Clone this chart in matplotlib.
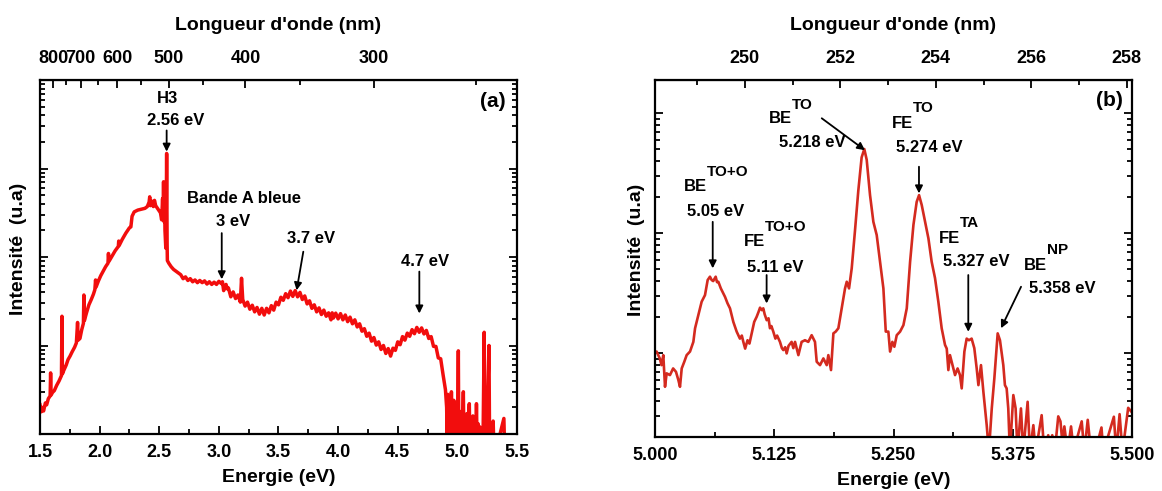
import numpy as np
import matplotlib
matplotlib.use('Agg')
import matplotlib.pyplot as plt
from matplotlib.ticker import MultipleLocator, LogLocator, NullFormatter, FixedLocator, FormatStrFormatter

plt.rcParams['font.family'] = ['Liberation Sans', 'DejaVu Sans']
plt.rcParams['font.weight'] = 'bold'
plt.rcParams['axes.labelweight'] = 'bold'

# ---------------- data, panel (a) ----------------
energy_a = [
    1.500, 1.510, 1.520, 1.530, 1.545, 1.556, 1.570, 1.585, 1.589, 1.593, 1.605, 1.620, 1.640, 1.660,
    1.680, 1.684, 1.688, 1.700, 1.720, 1.735, 1.752, 1.770, 1.790, 1.805, 1.815, 1.820, 1.835, 1.850,
    1.864, 1.868, 1.872, 1.890, 1.910, 1.930, 1.948, 1.960, 1.966, 1.970, 1.990, 2.010, 2.030, 2.050,
    2.070, 2.074, 2.078, 2.100, 2.130, 2.157, 2.160, 2.164, 2.190, 2.220, 2.250, 2.262, 2.272, 2.290,
    2.320, 2.350, 2.380, 2.400, 2.415, 2.420, 2.425, 2.440, 2.450, 2.460, 2.470, 2.485, 2.500, 2.510,
    2.520, 2.528, 2.532, 2.536, 2.540, 2.544, 2.548, 2.555, 2.559, 2.562, 2.566, 2.568, 2.580, 2.600,
    2.620, 2.640, 2.660,
    2.68, 2.70, 2.72, 2.74, 2.76, 2.78, 2.80, 2.82, 2.84, 2.86, 2.88, 2.90, 2.92, 2.94, 2.96, 2.98,
    3.00, 3.02, 3.03, 3.04, 3.06, 3.07, 3.08, 3.10, 3.12, 3.14, 3.16, 3.18, 3.19, 3.20, 3.22, 3.24,
    3.26, 3.28, 3.30, 3.32, 3.34, 3.36, 3.38, 3.40, 3.42, 3.44, 3.46, 3.48, 3.50, 3.52, 3.54, 3.56,
    3.58, 3.60, 3.62, 3.64, 3.66, 3.68, 3.70, 3.72, 3.74, 3.76, 3.78, 3.80, 3.82, 3.84, 3.86, 3.88,
    3.90, 3.92, 3.94, 3.95, 3.96, 3.98, 4.00, 4.02, 4.04, 4.06, 4.08, 4.10, 4.12, 4.14, 4.16, 4.18,
    4.20, 4.22, 4.24, 4.26, 4.28, 4.30, 4.32, 4.34, 4.36, 4.38, 4.40, 4.42, 4.44, 4.46, 4.48, 4.50,
    4.52, 4.54, 4.56, 4.58, 4.60, 4.62, 4.64, 4.66, 4.68, 4.70, 4.72, 4.74, 4.76, 4.78, 4.80, 4.82,
    4.84, 4.86, 4.88, 4.90, 4.91,
    4.915, 4.920, 4.925, 4.930, 4.935, 4.940, 4.945, 4.950, 4.955, 4.960, 4.965, 4.970, 4.975, 4.980,
    4.985, 4.990, 4.995, 5.003, 5.008, 5.012, 5.020, 5.025, 5.035, 5.040, 5.050, 5.055, 5.065, 5.070,
    5.080, 5.085, 5.100, 5.105, 5.115, 5.120, 5.130, 5.135, 5.150, 5.155, 5.160, 5.165, 5.175, 5.180,
    5.190, 5.195, 5.210, 5.215, 5.225, 5.230, 5.240, 5.245, 5.265, 5.270, 5.280, 5.285, 5.300, 5.305,
    5.320, 5.340, 5.390, 5.395, 5.420,
]
intensity_a = [
    21.4, 17.8, 20.0, 18.2, 22.4, 21.4, 25.1, 26.9, 49.0, 27.5, 29.5, 30.9, 35.5, 39.8,
    45.7, 214, 47.9, 52.5, 60.3, 69.2, 75.9, 85.1, 95.5, 107, 182, 115, 120, 151,
    178, 372, 191, 234, 288, 331, 380, 427, 550, 457, 537, 617, 692, 776,
    851, 1096, 891, 1000, 1175, 1318, 1514, 1349, 1585, 1862, 2138, 2188, 2884, 3236,
    3388, 3467, 3548, 3715, 4169, 4786, 3802, 4266, 3715, 4365, 3802, 3548, 3311, 3162,
    2630, 4571, 2754, 7079, 2512, 5754, 1995, 1259, 3548, 14791, 1413, 912, 851, 776,
    724, 692, 661,
    631, 569, 596, 543, 569, 525, 550, 513, 543, 513, 537, 495, 525, 490, 519, 490,
    531, 501, 525, 417, 490, 437, 447, 355, 403, 339, 372, 309, 575, 331, 279, 309,
    257, 285, 240, 269, 226, 263, 221, 263, 234, 282, 251, 309, 288, 351, 324, 385,
    347, 412, 359, 417, 355, 398, 331, 363, 295, 320, 263, 288, 240, 266, 224, 251,
    214, 234, 195, 234, 204, 232, 200, 229, 195, 221, 186, 209, 176, 195, 162, 176,
    145, 155, 127, 138, 112, 123, 101, 110, 90.2, 100, 81.3, 92.3, 75.9, 93.3, 88.1, 110,
    102, 126, 115, 138, 127, 151, 136, 160, 141, 158, 135, 148, 120, 126, 97.7, 97.7,
    72.4, 70.8, 46.8, 31.6, 20.0,
    8, 28, 8, 25, 8, 22, 9, 30, 8, 18, 8, 24, 12, 16,
    8, 20, 8, 14, 87, 8, 18, 8, 15, 8, 30, 8, 14, 8,
    17, 8, 22, 8, 13, 8, 16, 8, 15, 8, 22, 8, 13, 8,
    12, 8, 11, 8, 141, 8, 12, 8, 100, 8, 11, 8, 14, 8,
    9.5, 8, 15, 8, 8,
]

# ---------------- data, panel (b) ----------------
energy_b = [
    5.0000, 5.0017, 5.0050, 5.0068, 5.0087, 5.0105, 5.0122, 5.0157, 5.0190, 5.0220, 5.0245, 5.0262,
    5.0280, 5.0307, 5.0332, 5.0367, 5.0402, 5.0420, 5.0454, 5.0489, 5.0524, 5.0552, 5.0576, 5.0594,
    5.0610, 5.0636, 5.0650, 5.0664, 5.0690, 5.0734, 5.0760, 5.0786, 5.0821, 5.0856, 5.0890, 5.0910,
    5.0926, 5.0945, 5.0970, 5.0990, 5.1013, 5.1040, 5.1066, 5.1085, 5.1101, 5.1120, 5.1135, 5.1150,
    5.1171, 5.1190, 5.1205, 5.1220, 5.1240, 5.1262, 5.1280, 5.1310, 5.1330, 5.1345, 5.1365, 5.1380,
    5.1400, 5.1432, 5.1450, 5.1468, 5.1503, 5.1537, 5.1572, 5.1607, 5.1642, 5.1677, 5.1695, 5.1730,
    5.1765, 5.1800, 5.1817, 5.1845, 5.1870, 5.1894, 5.1922, 5.1957, 5.1992, 5.2010, 5.2034, 5.2062,
    5.2096, 5.2131, 5.2166, 5.2194, 5.2219, 5.2254, 5.2289, 5.2324, 5.2359, 5.2394, 5.2419, 5.2446,
    5.2464, 5.2488, 5.2509, 5.2534, 5.2569, 5.2604, 5.2639, 5.2674, 5.2709, 5.2743, 5.2768, 5.2796,
    5.2831, 5.2866, 5.2900, 5.2935, 5.2970, 5.3005, 5.3040, 5.3058, 5.3075, 5.3092, 5.3110, 5.3145,
    5.3172, 5.3197, 5.3215, 5.3243, 5.3267, 5.3291, 5.3319, 5.3347, 5.3372, 5.3390, 5.3417, 5.3442,
    5.3477, 5.3500, 5.3530, 5.3557, 5.3592, 5.3616, 5.3651, 5.3668, 5.3686, 5.3703, 5.3720, 5.3756,
    5.3780, 5.3800, 5.3836, 5.3860, 5.3906, 5.3930, 5.3966, 5.3990, 5.4053, 5.4080, 5.4122, 5.4140,
    5.4164, 5.4190, 5.4227, 5.4250, 5.4270, 5.4291, 5.4325, 5.4361, 5.4390, 5.4420, 5.4473, 5.4500,
    5.4536, 5.4570, 5.4647, 5.4680, 5.4700, 5.4810, 5.4835, 5.4870, 5.4900, 5.4960, 5.5000,
]
intensity_b = [
    10.0, 10.3, 9.03, 7.94, 9.62, 5.24, 6.78, 6.56, 7.45, 6.98, 5.96, 5.24,
    7.45, 8.47, 9.62, 10.3, 12.4, 16.1, 20.7, 26.8, 30.4, 40.6, 43.3, 40.6,
    39.8, 43.3, 39.0, 39.3, 34.6, 29.4, 26.0, 23.6, 18.2, 15.1, 13.2, 14.0,
    12.4, 10.9, 12.8, 12.0, 14.6, 18.2, 20.1, 22.0, 23.9, 22.8, 23.6, 21.0,
    18.8, 19.5, 16.1, 16.8, 15.1, 13.2, 14.0, 12.4, 11.0, 10.6, 11.2, 9.94,
    11.5, 12.4, 11.0, 12.4, 9.62, 12.4, 12.8, 12.4, 14.1, 12.4, 8.47, 7.94,
    9.03, 7.94, 9.62, 7.22, 14.6, 15.1, 16.1, 23.6, 34.6, 39.3, 34.6, 50.8,
    104, 225, 427, 501, 408, 207, 124, 96.2, 57.7, 34.6, 15.1, 15.1,
    10.3, 12.4, 11.3, 14.1, 15.1, 17.1, 23.6, 57.7, 117, 182, 207, 171,
    124, 90.3, 57.7, 42.2, 26.8, 16.1, 11.7, 10.9, 7.22, 9.62, 8.47, 6.56,
    7.45, 6.56, 5.08, 10.3, 13.2, 12.8, 13.2, 11.0, 7.45, 5.41, 7.94, 4.77,
    2.51, 1.5, 3.46, 6.15, 14.6, 12.8, 7.94, 5.41, 5.08, 3.46, 1.5, 4.47,
    3.46, 1.5, 3.46, 1.5, 3.93, 1.5, 2.51, 1.5, 3.04, 1.5, 2.07, 1.5,
    2.07, 1.5, 2.97, 2.70, 1.8, 2.45, 1.5, 2.45, 1.5, 1.9, 2.70, 1.5,
    2.78, 1.5, 1.9, 2.4, 1.5, 2.95, 1.5, 3.1, 1.5, 3.5, 3.2,
]

wl_ticks_a = [300, 400, 500, 600, 700, 800]
wl_minor_a = [250, 350, 450, 550, 650, 750]
wl_ticks_b = [250, 252, 254, 256, 258]
wl_minor_b = [249, 251, 253, 255, 257]

# ---------------- figure ----------------
W, H = 1162, 491
fig = plt.figure(figsize=(W / 100, H / 100), dpi=100)
axA = fig.add_axes([40 / W, (H - 434) / H, 477 / W, 354 / H])
axB = fig.add_axes([655 / W, (H - 437) / H, 477 / W, 357 / H])


def style(ax):
    for s in ax.spines.values():
        s.set_linewidth(1.6)
    ax.set_yscale('log')
    ax.yaxis.set_major_locator(LogLocator(base=10, numticks=20))
    ax.yaxis.set_minor_locator(LogLocator(base=10, subs=np.arange(2, 10), numticks=20))
    ax.yaxis.set_major_formatter(NullFormatter())
    ax.yaxis.set_minor_formatter(NullFormatter())
    ax.tick_params(which='both', direction='in', top=False, right=True, width=1.3)
    ax.tick_params(which='major', length=6)
    ax.tick_params(which='minor', length=3.5)
    ax.tick_params(axis='x', labelsize=13, pad=7)


def style_top(sec):
    sec.tick_params(which='both', direction='in', width=1.3, labelsize=13, pad=9)
    sec.tick_params(which='major', length=6)
    sec.tick_params(which='minor', length=3.5)
    sec.set_xlabel("Longueur d'onde (nm)", fontsize=14, fontweight='bold', labelpad=15)


arrow_kw = dict(arrowstyle='-|>', color='black', lw=1.3, mutation_scale=11, shrinkA=0, shrinkB=0)
txt_kw = dict(fontsize=12, fontweight='bold', ha='center', va='center')

# ---- panel (a) ----
style(axA)
axA.plot(energy_a, intensity_a, color='#f20d0d', lw=2.5)
axA.set_xlim(1.5, 5.5)
axA.set_ylim(10, 1e5)
axA.xaxis.set_major_locator(MultipleLocator(0.5))
axA.xaxis.set_minor_locator(MultipleLocator(0.25))
axA.xaxis.set_major_formatter(FormatStrFormatter('%.1f'))
axA.set_xlabel('Energie (eV)', fontsize=14)
axA.xaxis.set_label_coords(0.5, -0.1)
axA.set_ylabel('Intensité  (u.a)', fontsize=14)
axA.yaxis.set_label_coords(-0.027, 0.523)

K = 1289.0
secA = axA.secondary_xaxis('top', functions=(lambda e: K / np.asarray(e, float),
                                              lambda w: K / np.asarray(w, float)))
secA.set_xticks(wl_ticks_a)
secA.xaxis.set_minor_locator(FixedLocator(wl_minor_a))
secA.xaxis.set_major_formatter(FormatStrFormatter('%d'))
style_top(secA)

axA.text(2.573, 61200, 'H3', **txt_kw)
axA.text(2.64, 34700, '2.56 eV', **txt_kw)
axA.annotate('', xy=(2.562, 15500), xytext=(2.562, 26900), arrowprops=arrow_kw)
axA.text(3.211, 4600, 'Bande A bleue', **txt_kw)
axA.text(3.118, 2535, '3 eV', **txt_kw)
axA.annotate('', xy=(3.024, 560), xytext=(3.024, 1862), arrowprops=arrow_kw)
axA.text(3.773, 1633, '3.7 eV', **txt_kw)
axA.annotate('', xy=(3.652, 420), xytext=(3.708, 1148), arrowprops=arrow_kw)
axA.text(4.728, 885, '4.7 eV', **txt_kw)
axA.annotate('', xy=(4.681, 230), xytext=(4.681, 684), arrowprops=arrow_kw)
axA.text(5.30, 57500, '(a)', fontsize=15, fontweight='bold', ha='center', va='center')

# ---- panel (b) ----
style(axB)
axB.plot(energy_b, intensity_b, color='#d42a1f', lw=1.9)
axB.set_xlim(5.0, 5.5)
axB.set_ylim(2.0, 1884)
axB.xaxis.set_major_locator(MultipleLocator(0.125))
axB.xaxis.set_minor_locator(MultipleLocator(0.0625))
axB.xaxis.set_major_formatter(FormatStrFormatter('%.3f'))
axB.set_xlabel('Energie (eV)', fontsize=14)
axB.xaxis.set_label_coords(0.5, -0.097)
axB.set_ylabel('Intensité  (u.a)', fontsize=14)
axB.yaxis.set_label_coords(-0.021, 0.524)

L0, SL = 248.12, 19.98
secB = axB.secondary_xaxis('top', functions=(lambda e: L0 + SL * (np.asarray(e, float) - 5.0),
                                              lambda w: 5.0 + (np.asarray(w, float) - L0) / SL))
secB.set_xticks(wl_ticks_b)
secB.xaxis.set_minor_locator(FixedLocator(wl_minor_b))
secB.xaxis.set_major_formatter(FormatStrFormatter('%d'))
style_top(secB)


def label_sup(ax, x, y_main, y_sup, main, sup):
    ax.text(x, y_main, main, fontsize=12, fontweight='bold', ha='right', va='center')
    ax.text(x, y_sup, sup, fontsize=11, fontweight='bold', ha='left', va='center')


label_sup(axB, 5.0545, 243, 324, 'BE', 'TO+O')
axB.text(5.064, 151, '5.05 eV', **txt_kw)
axB.annotate('', xy=(5.0605, 50.8), xytext=(5.0605, 124), arrowprops=arrow_kw)

label_sup(axB, 5.1153, 84.6, 113, 'FE', 'TO+O')
axB.text(5.1258, 52.1, '5.11 eV', **txt_kw)
axB.annotate('', xy=(5.117, 25.9), xytext=(5.117, 44.7), arrowprops=arrow_kw)

label_sup(axB, 5.1436, 904, 1167, 'BE', 'TO')
axB.text(5.1646, 573, '5.218 eV', **txt_kw)
axB.annotate('', xy=(5.2201, 490), xytext=(5.1748, 904), arrowprops=arrow_kw)

label_sup(axB, 5.2704, 820, 1094, 'FE', 'TO')
axB.text(5.2872, 521, '5.274 eV', **txt_kw)
axB.annotate('', xy=(5.2767, 214), xytext=(5.2767, 357), arrowprops=arrow_kw)

label_sup(axB, 5.3197, 90.4, 120.5, 'FE', 'TA')
axB.text(5.3365, 58.5, '5.327 eV', **txt_kw)
axB.annotate('', xy=(5.3284, 15.05), xytext=(5.3284, 44.7), arrowprops=arrow_kw)

label_sup(axB, 5.4109, 54.1, 72.1, 'BE', 'NP')
axB.text(5.4266, 34.6, '5.358 eV', **txt_kw)
axB.annotate('', xy=(5.3627, 16.1), xytext=(5.3837, 35.7), arrowprops=arrow_kw)

axB.text(5.476, 1282, '(b)', fontsize=15, fontweight='bold', ha='center', va='center')

fig.savefig('out.png', dpi=100)
